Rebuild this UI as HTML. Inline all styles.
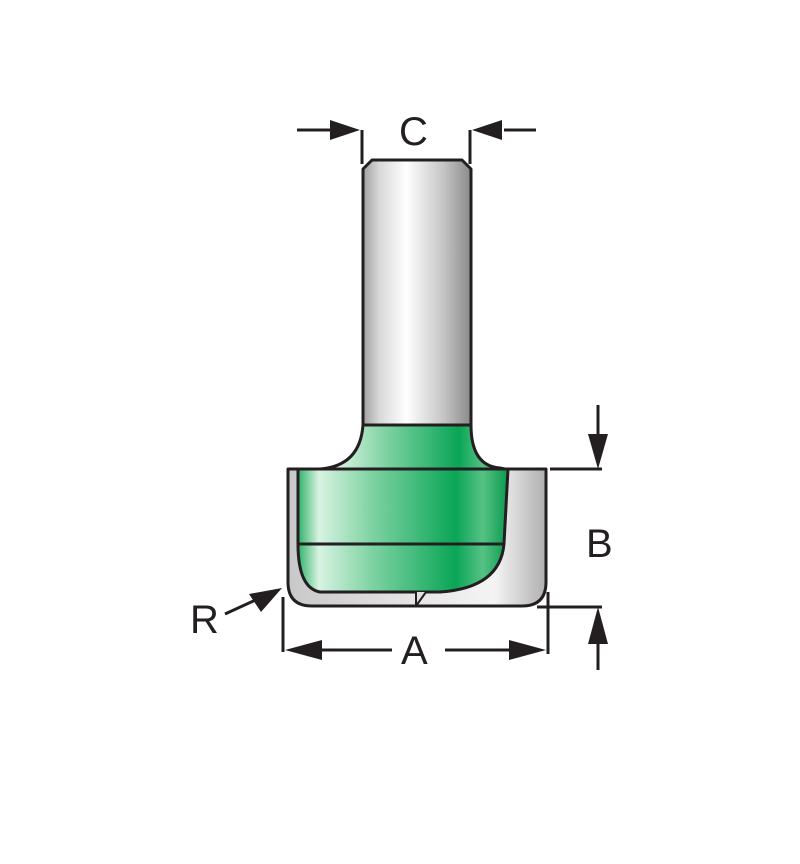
<!DOCTYPE html>
<html><head><meta charset="utf-8"><style>
html,body{margin:0;padding:0;background:#fff;}
svg{display:block;}
text{font-family:"Liberation Sans","DejaVu Sans",sans-serif;font-size:40px;fill:#231f20;}
</style></head><body>
<svg width="800" height="864" viewBox="0 0 800 864" xmlns="http://www.w3.org/2000/svg">
<defs>
<linearGradient id="sh" x1="0" x2="1" y1="0" y2="0">
<stop offset="0" stop-color="#a0a0a0"/><stop offset="0.15" stop-color="#d8d8d8"/><stop offset="0.4" stop-color="#fff"/><stop offset="0.75" stop-color="#c4c4c4"/><stop offset="1" stop-color="#8a8a8a"/>
</linearGradient>
<linearGradient id="gr" x1="0" x2="1" y1="0" y2="0">
<stop offset="0" stop-color="#2fb36a"/><stop offset="0.1" stop-color="#d8f2e2"/><stop offset="0.35" stop-color="#7fd3a3"/><stop offset="0.75" stop-color="#0aa556"/><stop offset="0.88" stop-color="#56c285"/><stop offset="1" stop-color="#0a9a4e"/>
</linearGradient>
<linearGradient id="gb" x1="0" x2="1" y1="0" y2="0">
<stop offset="0" stop-color="#c8c8c8"/><stop offset="0.5" stop-color="#e6e6e6"/><stop offset="0.8" stop-color="#f4f4f4"/><stop offset="1" stop-color="#b0b0b0"/>
</linearGradient>
</defs>
<g stroke="#231f20" stroke-width="3" stroke-linejoin="round">
<path d="M363 425 L363 169 L372 160 L462 160 L471 169 L471 425 Z" fill="url(#sh)"/>
<path d="M288 469 L546 469 L546 582 Q546 606 522 606 L312 606 Q288 606 288 582 Z" fill="url(#gb)"/>
<path d="M363 425 L471 425 Q471 466 500 468 L505 469 L320 469 Q360 466 363 425 Z" fill="url(#gr)"/>
<path d="M298 469 L508 469 L504 544 Q500 588 440 592 L320 592 Q298 588 298 544 Z" fill="url(#gr)"/>
<line x1="298" y1="544" x2="504" y2="544"/>
<path d="M416 592 L416 606 L426 592" fill="#e0e0e0" stroke-width="2"/>
<line x1="288" y1="469" x2="546" y2="469"/>
</g>
<g stroke="#231f20" stroke-width="3" fill="none">
<line x1="362" y1="130" x2="362" y2="164"/><line x1="470" y1="130" x2="470" y2="164"/>
<line x1="297" y1="130" x2="330" y2="130"/><line x1="504" y1="130" x2="536" y2="130"/>
<line x1="283" y1="597" x2="283" y2="652"/><line x1="548" y1="592" x2="548" y2="654"/>
<line x1="310" y1="650" x2="392" y2="650"/><line x1="445" y1="650" x2="520" y2="650"/>
<line x1="550" y1="469" x2="602" y2="469"/><line x1="537" y1="607" x2="602" y2="607"/>
<line x1="598" y1="405" x2="598" y2="440"/><line x1="598" y1="640" x2="598" y2="670"/>
<line x1="225" y1="614" x2="260" y2="598"/>
</g>
<g fill="#231f20">
<polygon points="360,130 330,120 330,140"/>
<polygon points="472,130 502,120 502,140"/>
<polygon points="285,650 322,640 322,660"/>
<polygon points="546,650 509,640 509,660"/>
<polygon points="598,469 588,434 608,434"/>
<polygon points="598,607 588,644 608,644"/>
<polygon points="282,588 249,594 261,612"/>
</g>
<text x="399" y="145">C</text>
<text x="401" y="664">A</text>
<text x="586" y="557">B</text>
<text x="190" y="633">R</text>
</svg>
</body></html>
